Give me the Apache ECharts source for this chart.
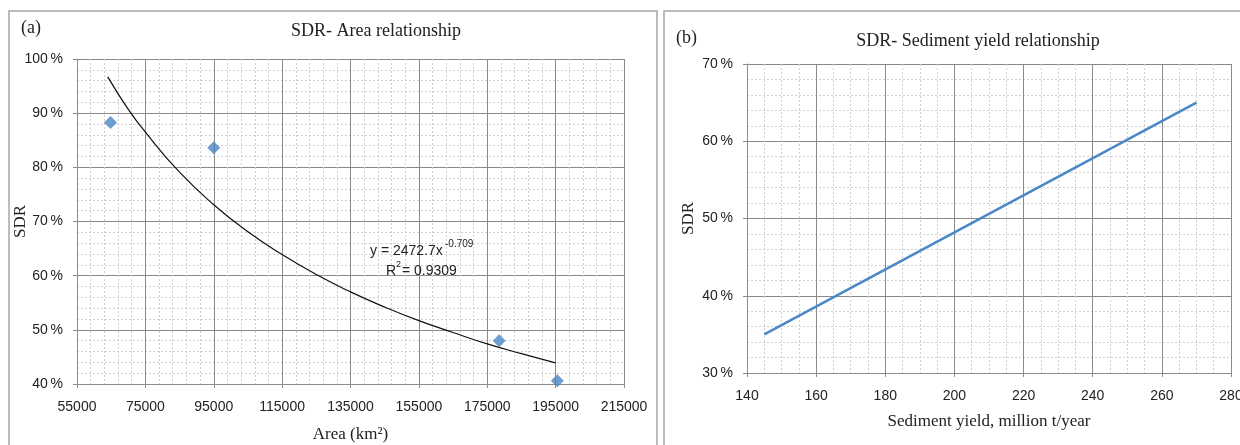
<!DOCTYPE html>
<html>
<head>
<meta charset="utf-8">
<script src="https://cdn.jsdelivr.net/npm/echarts@6/dist/echarts.min.js"></script>
<style>
html,body{margin:0;padding:0;background:#fff;}
#c{width:1240px;height:445px;}
</style>
</head>
<body>
<div id="c"></div>
<script>
// Panel (a): observed SDR (%) vs area (km2)
const areaX = [64800, 95000, 178500, 195500];
const areaSDR = [88.3, 83.6, 48.0, 40.6];
// Panel (a): power trendline
const trendX = [64000, 70000, 75000, 85000, 95000, 105000, 115000, 125000, 135000, 145000, 155000, 165000, 175000, 185000, 195000];
const trendSDR = [96.7, 90.7, 86.5, 79.1, 73.1, 68.1, 63.9, 60.2, 57.0, 54.2, 51.7, 49.5, 47.4, 45.6, 43.9];
// Panel (b): SDR (%) vs sediment yield (million t/year)
const yieldX = [145, 270];
const yieldSDR = [35, 65];
// Tick ranges
const axisA = {xMin: 55000, xMax: 215000, xStep: 20000, yMin: 40, yMax: 100, yStep: 10};
const axisB = {xMin: 140, xMax: 280, xStep: 20, yMin: 30, yMax: 70, yStep: 10};

const chart = echarts.init(document.getElementById('c'), null, {renderer: 'canvas'});
const sans = 'Liberation Sans';
const serif = 'Liberation Serif';
const pct = v => v + '\u2009%';

function xAxisCfg(a, idx, minorN, name, nameGap) {
  return {
    type: 'value', gridIndex: idx, min: a.xMin, max: a.xMax, interval: a.xStep,
    name: name, nameLocation: 'middle', nameGap: nameGap, nameMoveOverlap: false,
    nameTextStyle: {fontFamily: serif, fontSize: 17, color: '#222'},
    axisLine: {show: true, lineStyle: {color: '#8c8c8c', width: 1}},
    axisTick: {show: true, length: 4, inside: false, lineStyle: {color: '#8c8c8c'}},
    axisLabel: {fontFamily: sans, fontSize: 14, color: '#222', margin: 16, formatter: v => String(v)},
    splitLine: {show: true, lineStyle: {color: '#8a8a8a', width: 1}},
    minorTick: {show: false, splitNumber: minorN},
    minorSplitLine: {show: true, lineStyle: {color: '#cfcfcf', width: 1, type: [2, 2]}}
  };
}
function yAxisCfg(a, idx, minorN, nameGap) {
  return {
    type: 'value', gridIndex: idx, min: a.yMin, max: a.yMax, interval: a.yStep,
    name: 'SDR', nameLocation: 'middle', nameGap: nameGap, nameRotate: 90, nameMoveOverlap: false,
    nameTextStyle: {fontFamily: serif, fontSize: 17, color: '#222'},
    axisLine: {show: true, lineStyle: {color: '#8c8c8c', width: 1}},
    axisTick: {show: true, length: 4, inside: false, lineStyle: {color: '#8c8c8c'}},
    axisLabel: {fontFamily: sans, fontSize: 14, color: '#222', margin: 14, formatter: pct},
    splitLine: {show: true, lineStyle: {color: '#8a8a8a', width: 1}},
    minorTick: {show: false, splitNumber: minorN},
    minorSplitLine: {show: true, lineStyle: {color: '#cfcfcf', width: 1, type: [2, 2]}}
  };
}

const txt = (x, y, s, size, ff) => ({type: 'text', x: x, y: y, z: 10, silent: true,
  style: {text: s, font: size + 'px "' + ff + '"', fill: '#222', textVerticalAlign: 'middle'}});

const option = {
  animation: false,
  backgroundColor: '#fff',
  grid: [
    {left: 77, top: 59, width: 547, height: 325, containLabel: false, outerBoundsMode: 'none'},
    {left: 747, top: 64, width: 484, height: 309, containLabel: false, outerBoundsMode: 'none'}
  ],
  title: [
    {text: 'SDR- Area relationship', left: 371, top: 17, textAlign: 'center',
     textStyle: {fontFamily: serif, fontSize: 18, fontWeight: 'normal', color: '#222'}},
    {text: 'SDR- Sediment yield relationship', left: 973, top: 27, textAlign: 'center',
     textStyle: {fontFamily: serif, fontSize: 18, fontWeight: 'normal', color: '#222'}}
  ],
  xAxis: [
    xAxisCfg(axisA, 0, 5, 'Area (km\u00B2)', 42),
    xAxisCfg(axisB, 1, 4, 'Sediment yield, million t/year', 40)
  ],
  yAxis: [
    yAxisCfg(axisA, 0, 5, 48),
    yAxisCfg(axisB, 1, 5, 50)
  ],
  series: [
    {type: 'line', xAxisIndex: 0, yAxisIndex: 0, data: trendX.map((x, i) => [x, trendSDR[i]]),
     smooth: true, showSymbol: false, lineStyle: {color: '#111', width: 1.2}, z: 3},
    {type: 'scatter', xAxisIndex: 0, yAxisIndex: 0, data: areaX.map((x, i) => [x, areaSDR[i]]),
     symbol: 'diamond', symbolSize: 13, itemStyle: {color: '#4a84c4'}, z: 4},
    {type: 'line', xAxisIndex: 1, yAxisIndex: 1, data: yieldX.map((x, i) => [x, yieldSDR[i]]),
     showSymbol: false, lineStyle: {color: '#4a88c7', width: 2.5}, z: 3}
  ],
  graphic: [
    {type: 'rect', shape: {x: 9, y: 11, width: 648, height: 460},
     style: {fill: 'none', stroke: '#a6a6a6', lineWidth: 1.5}, z: -1, silent: true},
    {type: 'rect', shape: {x: 664, y: 11, width: 600, height: 460},
     style: {fill: 'none', stroke: '#a6a6a6', lineWidth: 1.5}, z: -1, silent: true},
    txt(21, 28, '(a)', 18, serif),
    txt(676, 38, '(b)', 18, serif),
    txt(370, 251, 'y = 2472.7x', 14, sans),
    txt(445, 244, '-0.709', 10, sans),
    txt(386, 271, 'R', 14, sans),
    txt(396, 265, '2', 9, sans),
    txt(402, 271, '= 0.9309', 14, sans)
  ]
};
chart.setOption(option);
</script>
</body>
</html>
